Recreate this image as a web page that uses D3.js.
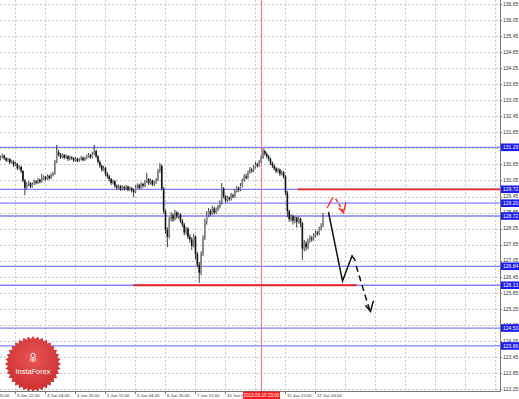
<!DOCTYPE html>
<html><head><meta charset="utf-8">
<script src="https://cdn.jsdelivr.net/npm/d3@7"></script>
<style>html,body{margin:0;padding:0;background:#fff;overflow:hidden}svg{display:block}</style>
</head><body>
<svg id="chart" width="519" height="399"></svg>
<script>
// ---------- DATA ----------
// H1 bars starting 3 Jun 2013 04:00 (bar 0)
const closes = [130.92,130.98,130.88,130.80,130.85,130.72,130.76,130.62,130.68,130.50,130.56,130.40,
130.05,129.78,129.90,
129.95,129.82,129.92,130.02,129.96,130.08,130.00,130.12,
130.18,130.10,130.22,130.14,130.26,130.30,
130.75,131.10,131.02,130.92,
131.00,130.90,130.96,130.85,130.92,130.88,130.80,130.86,130.78,130.84,130.90,130.82,130.88,130.95,131.00,130.92,
131.05,131.15,130.95,
130.75,130.60,130.45,130.52,130.30,130.20,130.10,
129.95,130.02,129.85,129.78,129.84,129.72,129.80,129.75,129.82,129.70,129.76,129.68,
129.62,
129.80,129.88,129.78,129.92,129.85,130.00,
130.10,
129.95,130.05,129.90,129.98,130.08,
130.40,130.60,
129.75,128.90,128.20,127.95,128.60,
128.75,128.60,128.85,128.70,128.78,128.55,
128.40,128.10,128.25,127.95,127.85,
127.60,127.95,127.30,126.90,
126.60,127.30,
127.90,128.50,128.75,
128.90,128.80,129.00,128.85,128.95,129.05,129.20,
129.75,129.45,
129.30,129.40,129.35,129.50,129.45,
129.65,129.75,129.70,129.85,
130.05,130.20,130.15,130.35,130.45,130.40,130.55,130.65,130.60,130.75,130.90,
131.15,
131.05,130.95,130.85,130.70,130.60,
130.50,130.40,130.45,130.30,130.35,130.20,
129.60,128.90,
128.60,128.70,128.55,128.65,128.50,128.62,128.45,
127.50,127.70,127.55,
127.80,127.90,127.85,128.00,128.10,128.05,128.25,128.35,128.55];
const firstOpen = 130.85;
const highs = [130.98,131.05,131.02,130.92,130.90,130.88,130.82,130.80,130.74,130.70,130.62,130.60,
130.44,130.10,129.98,
130.02,129.99,129.98,130.08,130.06,130.14,130.12,130.30,
130.24,130.22,130.28,130.26,130.32,130.38,
130.82,131.38,131.20,131.08,
131.06,131.04,131.02,130.99,130.98,130.96,130.92,130.92,130.90,130.90,130.96,130.94,130.94,131.02,131.08,131.04,
131.12,131.38,131.20,
131.00,130.80,130.64,130.60,130.56,130.36,130.26,
130.15,130.08,130.06,129.90,129.90,129.88,129.86,129.85,129.88,129.86,129.82,129.80,
129.74,
129.86,129.94,129.92,129.98,129.96,130.06,
130.33,
130.14,130.12,130.08,130.04,130.14,
130.48,130.70,
130.64,129.80,128.96,128.30,128.68,
128.86,128.82,128.95,128.90,128.86,128.82,
128.60,128.46,128.32,128.30,128.05,
127.92,128.05,128.00,127.38,
127.00,127.40,
128.00,128.62,128.90,
129.02,128.98,129.10,129.06,129.04,129.14,129.30,
129.95,129.80,
129.50,129.48,129.46,129.58,129.56,
129.72,129.84,129.82,129.95,
130.12,130.28,130.30,130.42,130.55,130.52,130.62,130.74,130.72,130.82,130.98,
131.26,
131.20,131.10,131.00,130.90,130.76,
130.66,130.56,130.52,130.50,130.42,130.40,
130.25,129.66,
128.96,128.78,128.76,128.72,128.70,128.70,128.66,
128.50,127.82,127.78,
127.88,128.00,127.98,128.08,128.18,128.16,128.32,128.45,128.83];
const lows = [130.80,130.88,130.82,130.74,130.75,130.66,130.68,130.55,130.58,130.44,130.46,130.32,
129.98,129.50,129.72,
129.84,129.76,129.78,129.88,129.90,129.92,129.94,129.96,
130.06,130.04,130.06,130.08,130.10,130.20,
130.26,130.70,130.95,130.86,
130.88,130.84,130.86,130.78,130.80,130.82,130.74,130.76,130.72,130.74,130.80,130.76,130.78,130.84,130.90,130.86,
130.88,131.00,130.88,
130.68,130.52,130.38,130.40,130.22,130.12,130.02,
129.88,129.90,129.78,129.70,129.72,129.66,129.68,129.68,129.70,129.64,129.66,129.60,
129.43,
129.58,129.74,129.72,129.74,129.78,129.80,
129.95,
129.88,129.90,129.84,129.85,129.92,
130.02,130.34,
129.68,128.80,128.05,127.56,127.88,
128.52,128.50,128.55,128.62,128.62,128.46,
128.30,128.00,128.02,127.86,127.72,
127.45,127.55,127.10,126.80,
126.22,126.50,
127.22,127.82,128.40,
128.68,128.72,128.76,128.78,128.80,128.90,129.00,
129.15,129.38,
129.22,129.24,129.28,129.30,129.38,
129.40,129.60,129.62,129.65,
129.80,130.00,130.08,130.10,130.30,130.34,130.36,130.50,130.54,130.56,130.70,
130.85,
130.98,130.88,130.78,130.62,130.52,
130.42,130.32,130.34,130.22,130.24,130.12,
129.50,128.68,
128.50,128.52,128.40,128.46,128.28,128.44,128.30,
127.08,127.40,127.42,
127.48,127.72,127.76,127.80,127.92,127.98,128.00,128.18,128.30];

// horizontal support / resistance levels (blue) and their labels
const levelPrices = [131.29,129.72,129.20,128.72,126.84,126.13,124.53,123.86];
const levelLabels = ["131.29","129.72","129.20","128.72","126.84","126.13","124.53","123.86"];
// red levels: [price, fromBar, toBar]
const redLevelPrices = [129.72, 126.13];
const redLevelFrom = [158.4, 70.9];
const redLevelTo = [266.7, 189.9];

// price axis tick labels
const priceTicks = ["136.65","136.05","135.45","134.85","134.25","133.65","133.05","132.45","131.85","131.25","130.65","130.05","129.45","128.85","128.25","127.65","127.05","126.45","125.85","125.25","124.65","124.05","123.45","122.85","122.25"];
// time axis: bar positions of ticks and their labels
const timeTickBars = [-8,8,24,40,56,72,88,104,120,136,152,168,184,200,216,232,248,264];
const timeTickLabels = ["2 Jun 20:00","3 Jun 12:00","4 Jun 04:00","4 Jun 20:00","5 Jun 12:00","6 Jun 04:00","6 Jun 20:00","7 Jun 12:00","10 Jun 04:00","","11 Jun 12:00","12 Jun 04:00","","","","","",""];
// crosshair (vertical red line)
const crossBar = 139.2;
const crossLabel = "2013.06.10 23:00";

// forecast arrows (bar index, price)
const redArrowUpBars = [174.2,177.2], redArrowUpPrices = [129.02,129.42];
const redArrowDownBars = [178.7,182.9], redArrowDownPrices = [129.37,128.88];
const redHeadBars = [180.4,182.9,184.2], redHeadPrices = [129.02,128.84,129.24];
const blackSolidBars = [174.9,182.4,187.5,189.3], blackSolidPrices = [128.87,126.29,127.23,127.04];
const blackDashBars = [189.7,196.8], blackDashPrices = [126.85,125.22];
const blackHeadBars = [194.6,197.3,198.9], blackHeadPrices = [125.38,125.15,125.55];

// ---------- CHART ----------
const svg = d3.select("#chart");
const W = 519, H = 399, plotR = 500, plotB = 391;
const x = d3.scaleLinear().domain([0, 266.67]).range([0.5, 500.5]);
const y = d3.scaleLinear().domain([122.25, 136.65]).range([389, 4]);

svg.append("rect").attr("width", W).attr("height", H).attr("fill", "#fff");

const defs = svg.append("defs");
defs.append("clipPath").attr("id", "plotclip").append("rect").attr("x", 0).attr("y", 0).attr("width", plotR).attr("height", plotB);
const g = svg.append("g").attr("clip-path", "url(#plotclip)");

// grid
g.selectAll(".hg").data(priceTicks).join("line")
  .attr("x1", 0).attr("x2", plotR)
  .attr("y1", d => Math.round(y(+d)) + 0.5).attr("y2", d => Math.round(y(+d)) + 0.5)
  .attr("stroke", "#c8c8c8").attr("stroke-width", 1).attr("stroke-dasharray", "2,2");
g.selectAll(".vg").data(timeTickBars.filter(b => b > 0)).join("line")
  .attr("x1", d => Math.round(x(d)) + 0.5).attr("x2", d => Math.round(x(d)) + 0.5)
  .attr("y1", 0).attr("y2", plotB)
  .attr("stroke", "#c8c8c8").attr("stroke-width", 1).attr("stroke-dasharray", "2,2");

// blue levels
g.selectAll(".lvl").data(levelPrices).join("line")
  .attr("x1", 0).attr("x2", plotR)
  .attr("y1", d => y(d)).attr("y2", d => y(d))
  .attr("stroke", "#8080ff").attr("stroke-width", 1.3);

// crosshair vertical
g.append("line").attr("x1", x(crossBar)).attr("x2", x(crossBar)).attr("y1", 0).attr("y2", plotB)
  .attr("stroke", "#f47a7a").attr("stroke-width", 1);

// red levels
g.selectAll(".rl").data(redLevelPrices).join("line")
  .attr("x1", (d, i) => x(redLevelFrom[i])).attr("x2", (d, i) => x(redLevelTo[i]))
  .attr("y1", d => y(d)).attr("y2", d => y(d))
  .attr("stroke", "#e8262a").attr("stroke-width", 1.8);

// candles
const bars = closes.map((c, i) => ({ i, o: i === 0 ? firstOpen : closes[i - 1], c, h: highs[i], l: lows[i] }));
g.selectAll(".wick").data(bars).join("line")
  .attr("x1", d => x(d.i)).attr("x2", d => x(d.i))
  .attr("y1", d => y(d.h)).attr("y2", d => y(d.l))
  .attr("stroke", "#222").attr("stroke-width", 0.9);
g.selectAll(".body").data(bars).join("rect")
  .attr("x", d => x(d.i) - 0.8).attr("width", 1.6)
  .attr("y", d => y(Math.max(d.o, d.c))).attr("height", d => Math.max(0.8, Math.abs(y(d.o) - y(d.c))))
  .attr("fill", d => d.c >= d.o ? "#888" : "#111");

// arrows
const ln = d3.line().x(d => x(d[0])).y(d => y(d[1]));
const pts = (bs, ps) => bs.map((b, i) => [b, ps[i]]);
g.append("path").attr("d", ln(pts(redArrowUpBars, redArrowUpPrices))).attr("fill", "none").attr("stroke", "#ff2a2a").attr("stroke-width", 1.4);
g.append("path").attr("d", ln(pts(redArrowDownBars, redArrowDownPrices))).attr("fill", "none").attr("stroke", "#ff2a2a").attr("stroke-width", 1.4).attr("stroke-dasharray", "4,2");
g.append("path").attr("d", ln(pts(redHeadBars, redHeadPrices))).attr("fill", "none").attr("stroke", "#ff2a2a").attr("stroke-width", 1.4);
g.append("path").attr("d", ln(pts(blackSolidBars, blackSolidPrices))).attr("fill", "none").attr("stroke", "#111").attr("stroke-width", 1.5).attr("stroke-linejoin", "miter");
g.append("path").attr("d", ln(pts(blackDashBars, blackDashPrices))).attr("fill", "none").attr("stroke", "#111").attr("stroke-width", 1.5).attr("stroke-dasharray", "6,4");
g.append("path").attr("d", ln(pts(blackHeadBars, blackHeadPrices))).attr("fill", "none").attr("stroke", "#111").attr("stroke-width", 1.5);

// logo
const grad = defs.append("radialGradient").attr("id", "lg").attr("cx", "50%").attr("cy", "40%").attr("r", "60%");
grad.append("stop").attr("offset", "0%").attr("stop-color", "#e85555");
grad.append("stop").attr("offset", "100%").attr("stop-color", "#cc2f30");
const teeth = 36, cx = 33, cy = 364;
const star = d3.range(teeth * 2).map(k => [k * Math.PI / teeth, k % 2 ? 25 : 28]);
const logo = g.append("g").attr("transform", `translate(${cx},${cy})`);
logo.append("path").attr("d", d3.lineRadial().curve(d3.curveLinearClosed)(star)).attr("fill", "url(#lg)");
const icon = logo.append("g").attr("transform", "translate(0,-6)").attr("fill", "#fff").attr("stroke", "#fff");
icon.append("circle").attr("cx", 0).attr("cy", -2.5).attr("r", 2.2).attr("fill", "none").attr("stroke-width", 1);
icon.append("line").attr("x1", 0).attr("x2", 0).attr("y1", -1).attr("y2", 4).attr("stroke-width", 1.2);
icon.append("line").attr("x1", -2.2).attr("x2", -2.2).attr("y1", 0).attr("y2", 3.5).attr("stroke-width", 0.9);
icon.append("line").attr("x1", 2.2).attr("x2", 2.2).attr("y1", 0).attr("y2", 3.5).attr("stroke-width", 0.9);
logo.append("text").attr("x", 0).attr("y", 10).attr("text-anchor", "middle")
  .attr("font-family", "Liberation Sans, Arial, sans-serif").attr("font-size", 7.4).attr("fill", "#fff").text("InstaForex");

// axes borders
svg.append("line").attr("x1", plotR + 0.5).attr("x2", plotR + 0.5).attr("y1", 0).attr("y2", plotB + 0.5).attr("stroke", "#777").attr("stroke-width", 1);
svg.append("line").attr("x1", 0).attr("x2", plotR + 0.5).attr("y1", plotB + 0.5).attr("y2", plotB + 0.5).attr("stroke", "#777").attr("stroke-width", 1);

// price labels
const fnt = "Liberation Sans, Arial, sans-serif";
svg.selectAll(".pt").data(priceTicks).join("text")
  .attr("x", 503).attr("y", d => y(+d) + 1.8)
  .attr("font-family", fnt).attr("font-size", 5).attr("fill", "#333").text(d => d);
svg.selectAll(".ptk").data(priceTicks).join("line")
  .attr("x1", plotR).attr("x2", plotR + 2).attr("y1", d => Math.round(y(+d)) + 0.5).attr("y2", d => Math.round(y(+d)) + 0.5)
  .attr("stroke", "#777");

// level label boxes
const lb = svg.selectAll(".lb").data(levelPrices).join("g").attr("transform", d => `translate(${plotR + 1},${y(d)})`);
lb.append("rect").attr("x", 0).attr("y", -3.8).attr("width", 18).attr("height", 7.6).attr("fill", "#1c1cf0");
lb.append("text").attr("x", 2).attr("y", 1.8).attr("font-family", fnt).attr("font-size", 5).attr("fill", "#fff").text((d, i) => levelLabels[i]);

// time labels
const tt = timeTickBars.map((b, i) => ({ b, t: timeTickLabels[i] }));
svg.selectAll(".tk").data(tt.filter(d => d.t)).join("line")
  .attr("x1", d => Math.round(x(d.b)) + 0.5).attr("x2", d => Math.round(x(d.b)) + 0.5)
  .attr("y1", plotB).attr("y2", plotB + 3).attr("stroke", "#777");
svg.selectAll(".tl").data(tt.filter(d => d.t)).join("text")
  .attr("x", d => x(d.b) + 1.5).attr("y", 397)
  .attr("font-family", fnt).attr("font-size", 4.3).attr("fill", "#333").text(d => d.t);

// crosshair label
const cl = svg.append("g").attr("transform", `translate(${x(crossBar)},${plotB})`);
cl.append("rect").attr("x", -18.5).attr("y", 0.5).attr("width", 37).attr("height", 8).attr("fill", "#ff1a1a");
cl.append("text").attr("x", 0).attr("y", 6.2).attr("text-anchor", "middle").attr("font-family", fnt).attr("font-size", 4.6).attr("fill", "#fff").text(crossLabel);
</script>
</body></html>
